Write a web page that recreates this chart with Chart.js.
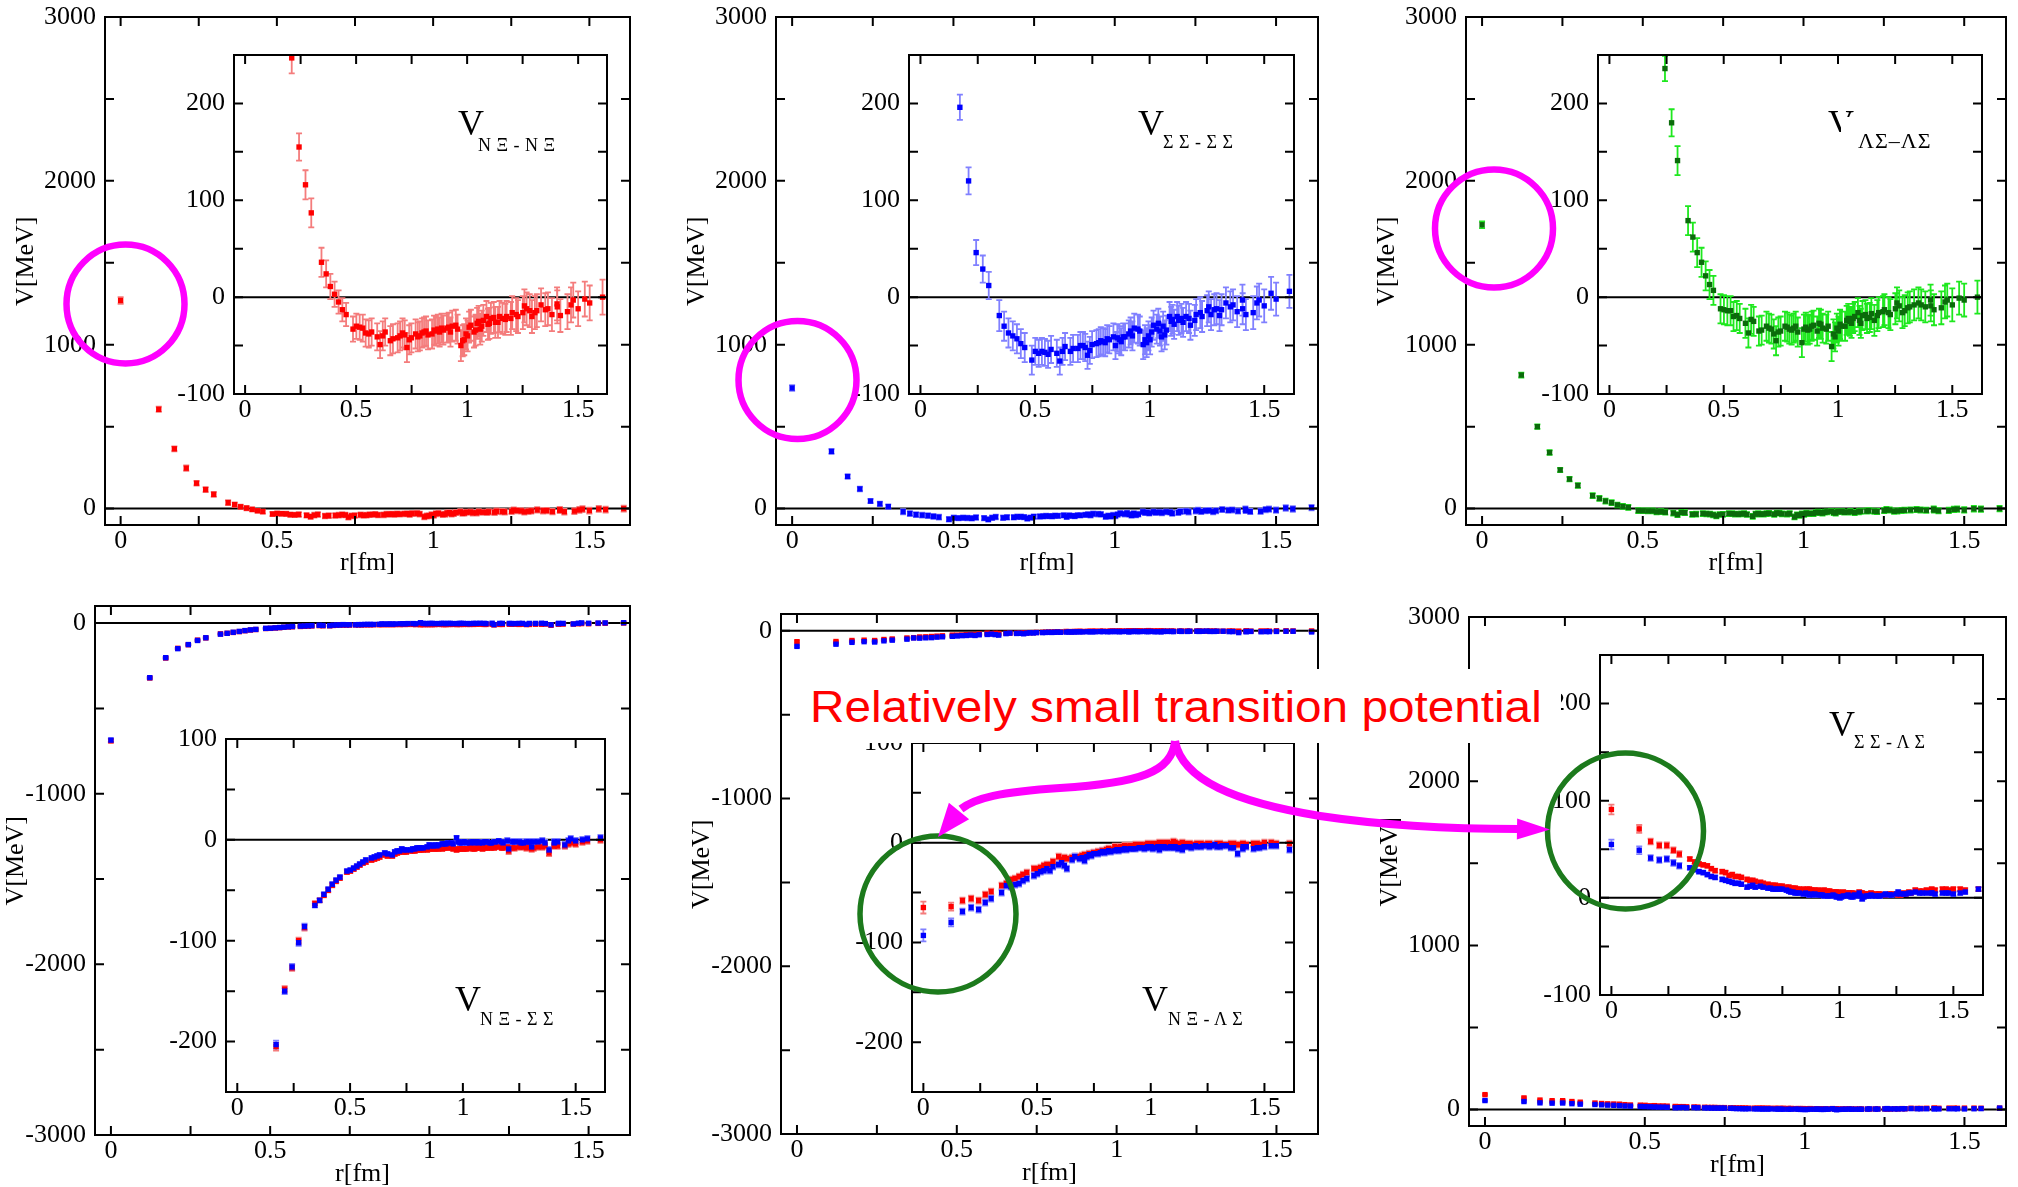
<!DOCTYPE html>
<html>
<head>
<meta charset="utf-8">
<title>Baryon-baryon potentials</title>
<script src="https://cdn.jsdelivr.net/npm/chart.js@4.4.1/dist/chart.umd.min.js"></script>
<style>
  html, body { margin: 0; padding: 0; background: #fff; }
  #stage { position: relative; width: 2018px; height: 1187px; overflow: hidden; background: #fff; }
  #stage canvas { position: absolute; }
  .tag { position: absolute; white-space: pre; color: #000; font-family: 'Liberation Serif', 'Times New Roman', serif; z-index: 4; }
  #note { position: absolute; left: 800px; top: 669px; width: 761px; height: 74px; background: #fff; z-index: 5; }
  #note span { position: absolute; left: 10px; white-space: nowrap; color: #ff0000;
    font-family: 'Liberation Sans', Arial, sans-serif; transform: scaleX(1.06); transform-origin: 0 0; }
  #marks { z-index: 6; pointer-events: none; }
</style>
</head>
<body>
<div id="stage">
  <div id="note"><span id="noteText">Relatively small transition potential</span></div>
</div>
<script>
// lattice distances r [fm]; the last rows are the extra off-axis sites
const R = [
  0, 0.122, 0.172, 0.210, 0.243, 0.272, 0.298, 0.344, 0.365, 0.384,
  0.403, 0.421, 0.438, 0.455, 0.486, 0.501, 0.516, 0.530, 0.543, 0.557,
  0.570, 0.595, 0.608, 0.620, 0.631, 0.654, 0.666, 0.687, 0.698, 0.709,
  0.729, 0.749, 0.768, 0.778, 0.787, 0.806, 0.815, 0.842, 0.851, 0.868,
  0.885, 0.893, 0.917, 0.933, 0.957, 0.972, 0.987, 1.002, 1.017, 1.038,
  1.052, 1.066, 1.087, 1.100, 1.120, 1.139, 1.159, 1.178, 1.203, 1.229,
  1.258, 1.282, 1.305, 1.333, 1.352, 1.382, 1.405, 1.420, 1.452, 1.478,
  1.500, 1.530, 1.552, 1.610,
  0.719, 0.739, 0.797, 0.824, 0.859, 0.876, 0.909, 0.925, 0.949, 0.980,
  0.995, 1.009, 1.031, 1.045, 1.059, 1.073, 1.094, 1.107, 1.127, 1.146,
  1.172, 1.197, 1.221, 1.251, 1.268, 1.292, 1.314, 1.364, 1.406, 1.468
];

// V_{NXi-NXi} [MeV]
const V_NXI_NXI = [
  1270, 606, 365, 247, 155, 116, 87, 36, 24, 11,
  3, -5, -13, -18, -33, -30, -31, -32, -37, -38,
  -36, -41, -49, -40, -36, -45, -43, -42, -40, -37,
  -52, -42, -38, -41, -40, -36, -35, -38, -34, -33,
  -32, -34, -31, -30, -33, -50, -44, -40, -29, -34,
  -25, -30, -20, -27, -21, -26, -22, -20, -16, -20,
  -9, -14, -16, -8, -13, -18, -7, -19, -15, -3,
  -12, -2, -6, 0,
  -39, -44, -37, -39, -35, -36, -32, -36, -29, -45,
  -38, -31, -36, -27, -33, -24, -28, -22, -26, -20,
  -23, -22, -18, -16, -12, -20, -14, -12, -10, -8
];
const ERR_NXI_NXI = [
  20, 16, 15, 16, 14, 15, 15, 15, 14, 13,
  13, 12, 12, 12, 13, 13, 13, 14, 14, 14,
  14, 14, 14, 15, 14, 15, 15, 15, 15, 15,
  15, 15, 15, 15, 15, 15, 15, 15, 15, 15,
  15, 15, 15, 16, 15, 16, 16, 16, 16, 16,
  16, 16, 16, 16, 16, 16, 16, 16, 17, 17,
  17, 17, 17, 17, 17, 17, 17, 17, 18, 18,
  18, 18, 18, 18,
  15, 15, 15, 15, 15, 15, 15, 15, 16, 16,
  16, 16, 16, 16, 16, 16, 16, 16, 16, 16,
  16, 17, 17, 17, 17, 17, 17, 17, 17, 18
];

// V_{SigmaSigma-SigmaSigma}
const V_SS_SS = [
  736, 349, 196, 120, 46, 29, 12, -19, -30, -37,
  -40, -43, -48, -52, -65, -56, -58, -56, -57, -59,
  -54, -58, -66, -56, -51, -56, -53, -53, -50, -50,
  -60, -49, -48, -47, -45, -47, -43, -41, -50, -44,
  -41, -41, -35, -32, -35, -49, -47, -44, -29, -27,
  -41, -39, -20, -23, -20, -22, -20, -29, -18, -20,
  -10, -13, -19, -6, -10, -15, -3, -18, -16, -3,
  -9, 4, -2, 6,
  -52, -55, -46, -44, -42, -46, -38, -40, -33, -44,
  -40, -36, -33, -35, -30, -34, -25, -28, -24, -26,
  -22, -24, -16, -14, -18, -12, -13, -8, -12, -6
];
const ERR_SS_SS = [
  18, 15, 13, 14, 13, 14, 14, 16, 15, 15,
  15, 15, 15, 15, 15, 14, 14, 14, 14, 14,
  14, 14, 14, 14, 14, 14, 14, 14, 14, 14,
  14, 14, 14, 14, 14, 14, 14, 14, 14, 14,
  14, 14, 14, 15, 15, 15, 15, 15, 15, 15,
  15, 15, 15, 15, 15, 15, 15, 15, 16, 16,
  16, 16, 16, 16, 16, 16, 16, 16, 17, 17,
  17, 17, 17, 17,
  14, 14, 14, 14, 14, 14, 14, 15, 15, 15,
  15, 15, 15, 15, 15, 15, 15, 15, 15, 15,
  15, 16, 16, 16, 16, 16, 16, 16, 16, 17
];

// V_{LambdaSigma-LambdaSigma}
const V_LS_LS = [
  1732, 815, 500, 342, 236, 180, 141, 79, 62, 46,
  36, 22, 13, 7, -12, -13, -14, -14, -20, -19,
  -22, -27, -37, -23, -25, -35, -34, -30, -32, -33,
  -45, -35, -30, -31, -33, -32, -30, -47, -33, -34,
  -30, -29, -27, -32, -30, -51, -41, -35, -30, -24,
  -25, -22, -16, -27, -18, -21, -24, -16, -13, -18,
  -6, -16, -11, -8, -6, -10, -3, -13, -11, -3,
  -8, -1, -3, 0,
  -38, -36, -34, -36, -31, -33, -35, -28, -33, -38,
  -32, -28, -30, -22, -27, -20, -24, -19, -22, -17,
  -19, -15, -16, -12, -9, -14, -10, -8, -9, -5
];
const ERR_LS_LS = [
  20, 15, 14, 14, 13, 14, 15, 15, 15, 15,
  15, 15, 15, 15, 15, 15, 15, 15, 15, 15,
  15, 15, 15, 15, 15, 15, 15, 15, 15, 15,
  15, 15, 15, 15, 15, 15, 15, 15, 15, 15,
  15, 15, 15, 15, 15, 15, 15, 15, 15, 15,
  15, 15, 15, 15, 15, 15, 16, 16, 16, 16,
  16, 16, 16, 16, 16, 16, 16, 16, 17, 17,
  17, 17, 17, 17,
  15, 15, 15, 15, 15, 15, 15, 15, 15, 15,
  15, 15, 15, 15, 15, 15, 15, 15, 15, 16,
  16, 16, 16, 16, 16, 16, 16, 16, 16, 17
];

// V_{NXi-SigmaSigma}: two orderings (red / blue)
const V_NXI_SS_RED = [
  -690, -322, -205, -148, -127, -100, -87, -63, -60, -55,
  -50, -45, -41, -38, -32, -31, -29, -27, -25, -23,
  -22, -20, -19, -18, -17, -15, -16, -16, -14, -13,
  -12, -12, -11, -11, -11, -10, -10, -10, -9, -9,
  -9, -9, -8, -8, -9, -10, -9, -9, -9, -8,
  -9, -8, -9, -8, -8, -8, -7, -8, -11, -8,
  -7, -8, -9, -7, -7, -13, -6, -6, -6, -3,
  -4, -2, -1, 0,
  -12, -12, -10, -10, -9, -9, -9, -8, -8, -9,
  -9, -9, -8, -9, -8, -8, -8, -8, -8, -7,
  -8, -7, -8, -7, -7, -7, -8, -6, -6, -4
];
const V_NXI_SS_BLUE = [
  -686, -320, -203, -150, -126, -102, -86, -65, -60, -54,
  -49, -44, -40, -37, -31, -30, -28, -26, -24, -22,
  -20, -18, -17, -16, -15, -13, -14, -15, -12, -11,
  -9, -10, -10, -9, -9, -8, -8, -7, -5, -6,
  -6, -5, -4, -3, -4, 2, -3, -2, -3, -2,
  -3, -2, -3, -2, -3, -2, -1, -3, -9, -2,
  -3, -2, -7, -2, -1, -10, -3, -2, -5, 1,
  -1, 0, 1, 2,
  -11, -10, -8, -8, -6, -5, -4, -4, -3, -2,
  -3, -2, -3, -2, -2, -3, -2, -2, -3, -2,
  -2, -1, -2, -2, -3, -2, -2, -3, -2, -1
];
const ERR_NXI_SS = [
  10, 5, 4, 3, 3, 3, 3, 2, 2, 2,
  2, 2, 2, 2, 2, 2, 2, 2, 2, 2,
  2, 2, 2, 2, 2, 2, 2, 2, 2, 2,
  2, 2, 2, 2, 2, 2, 2, 2, 2, 2,
  2, 2, 2, 2, 2, 2, 2, 2, 2, 2,
  2, 2, 2, 2, 2, 2, 2, 2, 3, 3,
  3, 3, 3, 3, 3, 3, 3, 3, 3, 3,
  3, 3, 3, 3,
  2, 2, 2, 2, 2, 2, 2, 2, 2, 2,
  2, 2, 2, 2, 2, 2, 2, 2, 2, 2,
  2, 3, 3, 3, 3, 3, 3, 3, 3, 3
];

// V_{NXi-LambdaSigma}
const V_NXI_LS_RED = [
  -65, -64, -58, -56, -58, -52, -49, -43, -41, -37,
  -36, -34, -32, -30, -26, -26, -25, -23, -22, -22,
  -19, -14, -17, -15, -16, -15, -14, -14, -13, -12,
  -11, -10, -9, -9, -8, -7, -6, -4, -5, -4,
  -3, -4, -3, -2, -2, -3, -1, -2, -1, 0,
  -1, 0, -1, 1, -1, 0, -1, -2, -1, -2,
  -1, -2, -1, -2, -1, -2, -1, -2, -1, -2,
  0, 0, -1, -1,
  -12, -11, -8, -7, -5, -4, -3, -3, -2, -2,
  -2, -1, -1, 0, -1, 0, -1, 0, -1, -1,
  -1, -2, -1, -1, -2, -1, -2, -1, -1, -1
];
const V_NXI_LS_BLUE = [
  -93, -80, -69, -65, -67, -60, -56, -50, -43, -44,
  -42, -41, -38, -36, -33, -31, -29, -28, -26, -28,
  -24, -22, -20, -23, -26, -17, -14, -16, -15, -18,
  -12, -11, -11, -10, -9, -9, -8, -8, -7, -7,
  -6, -7, -6, -6, -5, -6, -4, -4, -5, -7,
  -4, -5, -4, -5, -6, -7, -4, -5, -4, -3,
  -4, -2, -4, -3, -5, -11, -6, -4, -6, -5,
  -4, -3, -3, -7,
  -14, -13, -10, -9, -8, -7, -6, -6, -5, -5,
  -5, -6, -4, -5, -4, -5, -5, -4, -5, -4,
  -4, -3, -4, -3, -3, -4, -3, -5, -4, -5
];
const ERR_NXI_LS = [
  6, 4, 3, 3, 3, 3, 3, 3, 3, 3,
  3, 3, 3, 3, 3, 3, 3, 3, 3, 3,
  3, 3, 3, 3, 3, 3, 3, 3, 3, 3,
  3, 3, 3, 3, 3, 3, 3, 3, 3, 3,
  3, 3, 3, 3, 3, 3, 3, 3, 3, 3,
  3, 3, 3, 3, 3, 3, 3, 3, 3, 3,
  3, 3, 3, 3, 3, 3, 3, 3, 3, 3,
  3, 3, 3, 3,
  3, 3, 3, 3, 3, 3, 3, 3, 3, 3,
  3, 3, 3, 3, 3, 3, 3, 3, 3, 3,
  3, 3, 3, 3, 3, 3, 3, 3, 3, 3
];

// V_{SigmaSigma-LambdaSigma}
const V_SS_LS_RED = [
  91, 71, 58, 54, 54, 49, 45, 40, 37, 35,
  34, 33, 30, 28, 27, 26, 23, 24, 22, 22,
  21, 19, 18, 18, 17, 16, 15, 14, 13, 13,
  12, 12, 11, 11, 10, 10, 9, 9, 8, 9,
  8, 8, 7, 8, 7, 6, 6, 5, 6, 5,
  5, 4, 6, 5, 4, 5, 4, 4, 3, 4,
  3, 5, 6, 8, 7, 8, 9, 8, 9, 8,
  9, 9, 8, 9,
  13, 12, 10, 9, 9, 8, 8, 7, 7, 6,
  6, 5, 5, 5, 5, 4, 5, 4, 4, 4,
  4, 3, 4, 4, 3, 4, 5, 7, 8, 9
];
const V_SS_LS_BLUE = [
  55, 49, 41, 39, 40, 36, 33, 31, 29, 27,
  26, 24, 22, 21, 19, 18, 17, 16, 15, 15,
  14, 11, 12, 13, 11, 12, 11, 10, 10, 9,
  9, 9, 8, 7, 6, 5, 5, 4, 5, 3,
  3, 4, 3, 2, 2, 3, 1, 0, 2, 3,
  1, 3, 5, -1, 2, 3, 2, 2, 4, 3,
  6, 4, 5, 6, 5, 5, 5, 4, 5, 5,
  4, 5, 6, 9,
  9, 9, 6, 5, 4, 4, 3, 3, 2, 2,
  1, 1, 2, 2, 1, 2, 2, 1, 2, 2,
  2, 3, 3, 4, 4, 4, 5, 5, 5, 5
];
const ERR_SS_LS = [
  5, 4, 3, 3, 3, 3, 3, 2, 2, 2,
  2, 2, 2, 2, 2, 2, 2, 2, 2, 2,
  2, 2, 2, 2, 2, 2, 2, 2, 2, 2,
  2, 2, 2, 2, 2, 2, 2, 2, 2, 2,
  2, 2, 2, 2, 2, 2, 2, 2, 2, 2,
  2, 2, 2, 2, 2, 2, 2, 2, 2, 2,
  2, 2, 2, 2, 2, 2, 2, 2, 2, 2,
  2, 2, 2, 2,
  2, 2, 2, 2, 2, 2, 2, 2, 2, 2,
  2, 2, 2, 2, 2, 2, 2, 2, 2, 2,
  2, 2, 2, 2, 2, 2, 2, 2, 2, 2
];

// axis ticks
const X_LABELS = [0, 0.5, 1, 1.5];
const X_MINOR = [0.25, 0.75, 1.25];
const UP_LABELS = [0, 1000, 2000, 3000];
const UP_MINOR = [500, 1500, 2500];
const DOWN_LABELS = [-3000, -2000, -1000, 0];
const DOWN_MINOR = [-2500, -1500, -500];
const IN_UP_LABELS = [-100, 0, 100, 200];
const IN_UP_MINOR = [-50, 50, 150];
const IN_DOWN_LABELS = [-200, -100, 0, 100];
const IN_DOWN_MINOR = [-150, -50, 50];

// ---- styling / layout ----
const SERIF = "'Liberation Serif', 'Times New Roman', serif";
const RED = '#ff0000', RED_ERR = '#f47c7c';
const BLUE = '#0000ff', BLUE_ERR = '#8080ff';
const DKGREEN = '#0b6b0b', GREEN_ERR = '#1ee81e';
const PAD_T = 30, PAD_R = 14;

// plot boxes on the page: [left, top, right, bottom]
const BOX = {
  p1: [105, 17, 630, 525], i1: [234, 55, 607, 394],
  p2: [776, 17, 1318, 525], i2: [909, 55, 1294, 394],
  p3: [1466, 17, 2006, 525], i3: [1598, 55, 1982, 394],
  p4: [95, 606, 630, 1135], i4: [226, 739, 605, 1092],
  p5: [781, 614, 1318, 1134], i5: [912, 743, 1294, 1092],
  p6: [1469, 617, 2006, 1126], i6: [1600, 655, 1983, 995]
};

Chart.defaults.font.family = SERIF;
Chart.defaults.font.size = 26;
Chart.defaults.color = '#000';

// frame with inward ticks on all four sides, zero line and error bars
const frameTicks = {
  id: 'frameTicks',
  beforeDraw(chart, _args, o) {
    if (!o.paper) return;
    const a = chart.chartArea;
    chart.ctx.save();
    chart.ctx.fillStyle = '#fff';
    chart.ctx.fillRect(a.left, a.top, a.right - a.left, a.bottom - a.top);
    chart.ctx.restore();
  },
  beforeDatasetsDraw(chart) {
    const { ctx, chartArea: a, scales: { x, y } } = chart;
    ctx.save();
    ctx.beginPath();
    ctx.rect(a.left, a.top, a.right - a.left, a.bottom - a.top);
    ctx.clip();
    const y0 = y.getPixelForValue(0);
    ctx.strokeStyle = '#000';
    ctx.lineWidth = 2;
    ctx.beginPath();
    ctx.moveTo(a.left, y0);
    ctx.lineTo(a.right, y0);
    ctx.stroke();
    const sets = chart.data.datasets;
    for (let k = sets.length - 1; k >= 0; k--) {
      const ds = sets[k];
      if (!ds.err) continue;
      ctx.strokeStyle = ds.errColor;
      ctx.lineWidth = 1.8;
      ctx.beginPath();
      ds.data.forEach((p, i) => {
        const px = x.getPixelForValue(p.x);
        const lo = y.getPixelForValue(p.y - ds.err[i]);
        const hi = y.getPixelForValue(p.y + ds.err[i]);
        ctx.moveTo(px, lo); ctx.lineTo(px, hi);
        ctx.moveTo(px - 3, lo); ctx.lineTo(px + 3, lo);
        ctx.moveTo(px - 3, hi); ctx.lineTo(px + 3, hi);
      });
      ctx.stroke();
    }
    ctx.restore();
  },
  afterDraw(chart, _args, o) {
    const { ctx, chartArea: a, scales: { x, y } } = chart;
    const len = 9;
    ctx.save();
    ctx.strokeStyle = '#000';
    ctx.lineWidth = 2;
    ctx.beginPath();
    o.xTicks.forEach(v => {
      const p = x.getPixelForValue(v);
      ctx.moveTo(p, a.bottom); ctx.lineTo(p, a.bottom - len);
      ctx.moveTo(p, a.top); ctx.lineTo(p, a.top + len);
    });
    o.yTicks.forEach(v => {
      const p = y.getPixelForValue(v);
      ctx.moveTo(a.left, p); ctx.lineTo(a.left + len, p);
      ctx.moveTo(a.right, p); ctx.lineTo(a.right - len, p);
    });
    ctx.stroke();
    ctx.strokeRect(a.left, a.top, a.right - a.left, a.bottom - a.top);
    ctx.restore();
  }
};

const stage = document.getElementById('stage');

function addPlot(box, opt) {
  const [l, t, r, b] = box;
  const cv = document.createElement('canvas');
  cv.width = (r - l) + opt.yw + PAD_R;
  cv.height = (b - t) + PAD_T + opt.xh;
  cv.style.left = (l - opt.yw) + 'px';
  cv.style.top = (t - PAD_T) + 'px';
  stage.appendChild(cv);

  const datasets = opt.sets.map(s => ({
    data: s.v.map((v, i) => ({ x: R[i], y: v })),
    err: s.e,
    errColor: s.ec,
    pointStyle: 'rect',
    pointRadius: 3.8,
    pointBackgroundColor: s.c,
    pointBorderColor: s.c,
    pointBorderWidth: 0,
    showLine: false
  }));

  return new Chart(cv, {
    type: 'scatter',
    data: { datasets },
    plugins: [frameTicks],
    options: {
      responsive: false,
      animation: false,
      devicePixelRatio: 1,
      events: [],
      layout: { padding: { top: PAD_T, right: PAD_R, left: 0, bottom: 0 } },
      plugins: {
        legend: { display: false },
        tooltip: { enabled: false },
        frameTicks: {
          paper: !opt.main,
          xTicks: X_LABELS.concat(X_MINOR),
          yTicks: opt.yLabels.concat(opt.yMinor)
        }
      },
      scales: {
        x: {
          type: 'linear', min: -0.05, max: 1.63,
          grid: { display: false, drawTicks: false },
          border: { display: false },
          afterBuildTicks: s => { s.ticks = X_LABELS.map(value => ({ value })); },
          afterFit: s => { s.height = opt.xh; },
          ticks: { padding: 1, autoSkip: false, maxRotation: 0, callback: v => String(v) },
          title: { display: !!opt.main, text: 'r[fm]', padding: { top: 0, bottom: 4 } }
        },
        y: {
          type: 'linear', min: opt.yMin, max: opt.yMax,
          grid: { display: false, drawTicks: false },
          border: { display: false },
          afterBuildTicks: s => { s.ticks = opt.yLabels.map(value => ({ value })); },
          afterFit: s => { s.width = opt.yw; },
          ticks: { padding: 9, autoSkip: false, callback: v => String(v) },
          // leading blanks lift the rotated title a little above the axis centre
          title: { display: !!opt.main, text: '   V[MeV]', padding: { top: 4, bottom: 0 } }
        }
      }
    }
  });
}

const nxiNxi = [{ v: V_NXI_NXI, e: ERR_NXI_NXI, c: RED, ec: RED_ERR }];
const ssSs = [{ v: V_SS_SS, e: ERR_SS_SS, c: BLUE, ec: BLUE_ERR }];
const lsLs = [{ v: V_LS_LS, e: ERR_LS_LS, c: DKGREEN, ec: GREEN_ERR }];
// blue listed first so it is painted on top of red
const nxiSs = [
  { v: V_NXI_SS_BLUE, e: ERR_NXI_SS, c: BLUE, ec: BLUE_ERR },
  { v: V_NXI_SS_RED, e: ERR_NXI_SS, c: RED, ec: RED_ERR }
];
const nxiLs = [
  { v: V_NXI_LS_BLUE, e: ERR_NXI_LS, c: BLUE, ec: BLUE_ERR },
  { v: V_NXI_LS_RED, e: ERR_NXI_LS, c: RED, ec: RED_ERR }
];
const ssLs = [
  { v: V_SS_LS_BLUE, e: ERR_SS_LS, c: BLUE, ec: BLUE_ERR },
  { v: V_SS_LS_RED, e: ERR_SS_LS, c: RED, ec: RED_ERR }
];

const mainUp = { main: true, yw: 98, xh: 58, yMin: -100, yMax: 3000, yLabels: UP_LABELS, yMinor: UP_MINOR };
const mainDown = { main: true, yw: 98, xh: 59, yMin: -3000, yMax: 100, yLabels: DOWN_LABELS, yMinor: DOWN_MINOR };
const insetUp = { yw: 70, xh: 40, yMin: -100, yMax: 250, yLabels: IN_UP_LABELS, yMinor: IN_UP_MINOR };
const insetDown = { yw: 70, xh: 40, yMin: -250, yMax: 100, yLabels: IN_DOWN_LABELS, yMinor: IN_DOWN_MINOR };

addPlot(BOX.p1, { ...mainUp, sets: nxiNxi });
addPlot(BOX.i1, { ...insetUp, sets: nxiNxi });
addPlot(BOX.p2, { ...mainUp, sets: ssSs });
addPlot(BOX.i2, { ...insetUp, sets: ssSs });
addPlot(BOX.p3, { ...mainUp, sets: lsLs });
addPlot(BOX.i3, { ...insetUp, sets: lsLs });
addPlot(BOX.p4, { ...mainDown, sets: nxiSs });
addPlot(BOX.i4, { ...insetDown, sets: nxiSs });
addPlot(BOX.p5, { ...mainDown, sets: nxiLs });
addPlot(BOX.i5, { ...insetDown, sets: nxiLs });
addPlot(BOX.p6, { ...mainUp, xh: 59, sets: ssLs });
addPlot(BOX.i6, { ...insetUp, sets: ssLs });

// potential names inside the insets (positioned by baseline)
function putText(txt, left, baseline, size, extra) {
  const el = document.createElement('div');
  el.className = 'tag';
  el.textContent = txt;
  el.style.left = left + 'px';
  el.style.top = (baseline - 0.8375 * size) + 'px';
  el.style.fontSize = size + 'px';
  el.style.lineHeight = size + 'px';
  Object.assign(el.style, extra || {});
  stage.appendChild(el);
  return el;
}
const SUB = { letterSpacing: '0.5px' };
putText('V', 458, 135, 36);
putText('N Ξ - N Ξ', 478, 151.5, 18, SUB);
putText('V', 1138, 135, 36);
putText('Σ Σ - Σ Σ', 1163, 148.5, 18, SUB);
putText('ΛΣ–ΛΣ', 1858, 148.5, 22, { letterSpacing: '1px' });
putText('V', 455, 1011, 36);
putText('N Ξ - Σ Σ', 480, 1025, 18, SUB);
putText('V', 1142, 1011.5, 36);
putText('N Ξ - Λ Σ', 1168, 1025, 18, SUB);
putText('V', 1829, 736, 36);
putText('Σ Σ - Λ Σ', 1854, 748.5, 18, SUB);

// the V of the Lambda-Sigma label is partly covered
const vClip = document.createElement('div');
Object.assign(vClip.style, { position: 'absolute', left: '1828px', top: '104.8px', width: '30px', height: '27px', overflow: 'hidden', zIndex: 4 });
const vGlyph = putText('V', 0, 30.15, 36);
vClip.appendChild(vGlyph);
stage.appendChild(vClip);
const vCover = document.createElement('div');
Object.assign(vCover.style, { position: 'absolute', left: '1841px', top: '117px', width: '14px', height: '18px', background: '#fff', zIndex: 4 });
stage.appendChild(vCover);

// note text baseline
const noteSize = 45;
const noteText = document.getElementById('noteText');
noteText.style.fontSize = noteSize + 'px';
noteText.style.lineHeight = noteSize + 'px';
noteText.style.top = (722 - 0.8465 * noteSize - 669) + 'px';

// rings and arrows on top
const marks = document.createElement('canvas');
marks.id = 'marks';
marks.width = 2018;
marks.height = 1187;
marks.style.left = '0px';
marks.style.top = '0px';
stage.appendChild(marks);
const g = marks.getContext('2d');

const MAGENTA = '#ff00ff', RING_GREEN = '#1c7a1c';
g.lineWidth = 6.5;
g.strokeStyle = MAGENTA;
[[125.5, 304, 59, 59.5], [797.5, 380, 59, 59], [1494, 228.5, 59, 59]].forEach(([cx, cy, rx, ry]) => {
  g.beginPath(); g.ellipse(cx, cy, rx, ry, 0, 0, Math.PI * 2); g.stroke();
});
g.lineWidth = 5.5;
g.strokeStyle = RING_GREEN;
[[938, 914, 78, 78], [1625.5, 831, 78, 78]].forEach(([cx, cy, rx, ry]) => {
  g.beginPath(); g.ellipse(cx, cy, rx, ry, 0, 0, Math.PI * 2); g.stroke();
});

function head(tipX, tipY, baseX, baseY, half) {
  const dx = tipX - baseX, dy = tipY - baseY;
  const n = Math.hypot(dx, dy);
  const px = -dy / n * half, py = dx / n * half;
  g.beginPath();
  g.moveTo(tipX, tipY);
  g.lineTo(baseX + px, baseY + py);
  g.lineTo(baseX - px, baseY - py);
  g.closePath();
  g.fill();
}
g.strokeStyle = MAGENTA;
g.fillStyle = MAGENTA;
g.lineWidth = 8;
g.lineCap = 'butt';
g.beginPath();
g.moveTo(1175, 741);
g.bezierCurveTo(1172, 772, 1140, 783, 1060, 788);
g.bezierCurveTo(1000, 792, 975, 798, 961, 809);
g.stroke();
head(938, 837, 959, 811, 13);
g.beginPath();
g.moveTo(1175, 741);
g.bezierCurveTo(1182, 780, 1235, 802, 1320, 816);
g.bezierCurveTo(1400, 828, 1470, 829, 1519, 829);
g.stroke();
head(1550, 829.5, 1517, 829, 10.5);
</script>
</body>
</html>
